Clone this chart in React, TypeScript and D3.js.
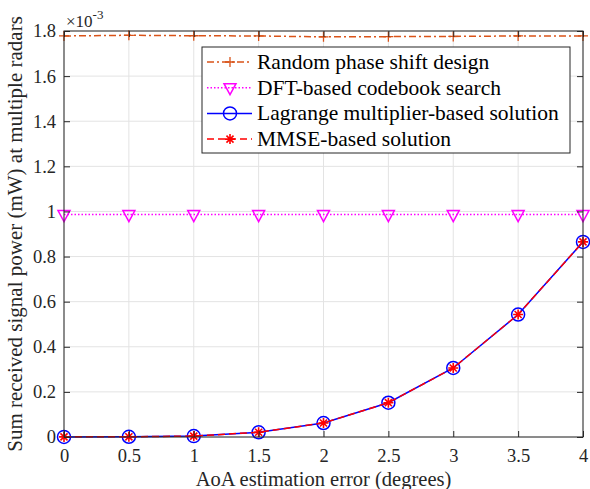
import React, { useEffect, useRef } from 'react';
import * as d3 from 'd3';

const xValues = [0, 0.5, 1, 1.5, 2, 2.5, 3, 3.5, 4];
const randomPhase = [1.778, 1.781, 1.779, 1.778, 1.774, 1.775, 1.776, 1.778, 1.778];
const dftCodebook = [0.986, 0.986, 0.986, 0.986, 0.986, 0.986, 0.986, 0.986, 0.986];
const lagrange = [0.0005, 0.001, 0.004, 0.021, 0.062, 0.152, 0.306, 0.543, 0.865];
const mmse = [0.0005, 0.001, 0.004, 0.021, 0.062, 0.152, 0.306, 0.543, 0.865];
const xTicks = [0, 0.5, 1, 1.5, 2, 2.5, 3, 3.5, 4];
const yTicks = [0, 0.2, 0.4, 0.6, 0.8, 1, 1.2, 1.4, 1.6, 1.8];

const series = [
  { name: 'Random phase shift design', values: randomPhase, color: '#D95319', dash: '7,3,2,3', marker: 'plus' },
  { name: 'DFT-based codebook search', values: dftCodebook, color: '#FF00FF', dash: '1.5,2', marker: 'tri' },
  { name: 'Lagrange multiplier-based solution', values: lagrange, color: '#0000FF', dash: '', marker: 'circle' },
  { name: 'MMSE-based solution', values: mmse, color: '#FF0000', dash: '7,4', marker: 'star' },
];

const font = 'Liberation Serif';

export default function App() {
  const svgRef = useRef<SVGSVGElement>(null);

  useEffect(() => {
    if (!svgRef.current) return;
    const svg = d3.select(svgRef.current);
    svg.selectAll('*').remove();

    const width = 590;
    const height = 489;
    const m = { left: 64, right: 7, top: 31, bottom: 52 };

    const x = d3.scaleLinear().domain([0, 4]).range([m.left, width - m.right]);
    const y = d3.scaleLinear().domain([0, 1.8]).range([height - m.bottom, m.top]);

    svg.append('rect').attr('width', width).attr('height', height).attr('fill', '#fff');

    // grid
    const grid = svg.append('g').attr('stroke', '#e3e3e3').attr('stroke-width', 1);
    xTicks.forEach(t => {
      grid.append('line').attr('x1', x(t)).attr('x2', x(t)).attr('y1', y.range()[0]).attr('y2', y.range()[1]);
    });
    yTicks.forEach(t => {
      grid.append('line').attr('x1', x.range()[0]).attr('x2', x.range()[1]).attr('y1', y(t)).attr('y2', y(t));
    });

    const plot = svg.append('g');
    const drawMarker = (g: any, kind: string, cx: number, cy: number, color: string) => {
      if (kind === 'plus') {
        g.append('path').attr('d', `M${cx - 5},${cy}H${cx + 5}M${cx},${cy - 5}V${cy + 5}`)
          .attr('stroke', color).attr('stroke-width', 1.3).attr('fill', 'none');
      } else if (kind === 'tri') {
        g.append('path').attr('d', `M${cx - 6},${cy - 4}L${cx + 6},${cy - 4}L${cx},${cy + 7}Z`)
          .attr('stroke', color).attr('stroke-width', 1.5).attr('fill', 'none');
      } else if (kind === 'circle') {
        g.append('circle').attr('cx', cx).attr('cy', cy).attr('r', 6.5)
          .attr('stroke', color).attr('stroke-width', 1.5).attr('fill', 'none');
      } else {
        const r = 5;
        let d = '';
        for (let k = 0; k < 4; k++) {
          const a = (k * Math.PI) / 4;
          d += `M${cx - r * Math.cos(a)},${cy - r * Math.sin(a)}L${cx + r * Math.cos(a)},${cy + r * Math.sin(a)}`;
        }
        g.append('path').attr('d', d).attr('stroke', color).attr('stroke-width', 1.6).attr('fill', 'none');
      }
    };

    const line = d3.line<number>().x((_, i) => x(xValues[i])).y(d => y(d));
    series.forEach(s => {
      plot.append('path').datum(s.values).attr('d', line)
        .attr('fill', 'none').attr('stroke', s.color).attr('stroke-width', 1.5)
        .attr('stroke-dasharray', s.dash || null);
      s.values.forEach((v, i) => drawMarker(plot, s.marker, x(xValues[i]), y(v), s.color));
    });

    // axes box
    const axisColor = '#262626';
    svg.append('rect').attr('x', x.range()[0]).attr('y', y.range()[1])
      .attr('width', x.range()[1] - x.range()[0]).attr('height', y.range()[0] - y.range()[1])
      .attr('fill', 'none').attr('stroke', axisColor).attr('stroke-width', 1);

    const xAxis = svg.append('g').attr('transform', `translate(0,${y.range()[0]})`)
      .call(d3.axisBottom(x).tickValues(xTicks).tickSizeInner(-6).tickSizeOuter(0).tickPadding(12).tickFormat(d3.format('')));
    const yAxis = svg.append('g').attr('transform', `translate(${x.range()[0]},0)`)
      .call(d3.axisLeft(y).tickValues(yTicks).tickSizeInner(-6).tickSizeOuter(0).tickPadding(8).tickFormat(d3.format('')));
    const yAxisR = svg.append('g').attr('transform', `translate(${x.range()[1]},0)`)
      .call(d3.axisRight(y).tickValues(yTicks).tickSizeInner(-6).tickSizeOuter(0).tickFormat(() => ''));
    const xAxisT = svg.append('g').attr('transform', `translate(0,${y.range()[1]})`)
      .call(d3.axisTop(x).tickValues(xTicks).tickSizeInner(-6).tickSizeOuter(0).tickFormat(() => ''));
    [xAxis, yAxis, yAxisR, xAxisT].forEach(a => {
      a.select('.domain').remove();
      a.attr('font-family', font).attr('font-size', 18.5);
      a.selectAll('line').attr('stroke', axisColor);
      a.selectAll('text').attr('fill', '#262626');
    });

    // exponent
    const ex = svg.append('text').attr('x', x.range()[0] + 2).attr('y', 27)
      .attr('font-family', font).attr('font-size', 17).attr('fill', '#262626');
    ex.append('tspan').text('×10');
    ex.append('tspan').attr('dy', -8).attr('font-size', 13).text('-3');

    // labels
    svg.append('text').attr('x', (x.range()[0] + x.range()[1]) / 2).attr('y', 486)
      .attr('text-anchor', 'middle').attr('font-family', font).attr('font-size', 20.5).attr('fill', '#262626')
      .text('AoA estimation error (degrees)');
    svg.append('text').attr('transform', `translate(22,${(y.range()[0] + y.range()[1]) / 2}) rotate(-90)`)
      .attr('text-anchor', 'middle').attr('font-family', font).attr('font-size', 21).attr('fill', '#262626')
      .text('Sum received signal power (mW) at multiple radars');

    // legend
    const lg = svg.append('g').attr('transform', 'translate(202,47)');
    lg.append('rect').attr('width', 368).attr('height', 106).attr('fill', '#fff')
      .attr('stroke', '#262626').attr('stroke-width', 1);
    series.forEach((s, i) => {
      const cy = 15 + i * 25.7;
      lg.append('line').attr('x1', 5).attr('x2', 50).attr('y1', cy).attr('y2', cy)
        .attr('stroke', s.color).attr('stroke-width', 1.5).attr('stroke-dasharray', s.dash || null);
      drawMarker(lg, s.marker, 28, cy, s.color);
      lg.append('text').attr('x', 55).attr('y', cy + 7).attr('font-family', font).attr('font-size', 21.5)
        .attr('fill', '#000').text(s.name);
    });
  }, []);

  return <svg ref={svgRef} width={590} height={489} style={{ display: 'block', position: 'absolute', left: 0, top: 0 }} />;
}
